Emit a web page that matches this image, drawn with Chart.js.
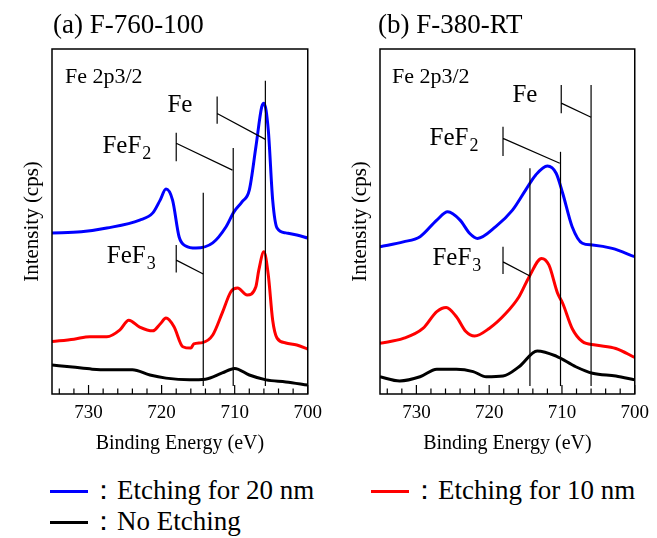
<!DOCTYPE html>
<html lang="en">
<head>
<meta charset="UTF-8">
<title>Fe 2p3/2 spectra</title>
<script src="https://cdn.jsdelivr.net/npm/chart.js"></script>
<style>
  body { margin: 0; background: #fff; font-family: 'Liberation Serif', 'Times New Roman', serif; }
  #wrap { position: relative; width: 657px; height: 538px; overflow: hidden; }
  canvas { position: absolute; top: 0; }
  #panelA { left: 0; }
  #panelB { left: 328px; }
  .legend-item { position: absolute; font-size: 27px; line-height: 30px; color: #000; white-space: nowrap; }
  .legend-item .swatch { display: inline-block; width: 38px; height: 3px; vertical-align: middle; margin-right: 2px; position: relative; top: -1px; }
</style>
</head>
<body>
<div id="wrap">
  <canvas id="panelA" width="330" height="460"></canvas>
  <canvas id="panelB" width="329" height="460"></canvas>
  <div class="legend-item" style="left:50px; top:475px;"><span class="swatch" style="background:#0000ff"></span>：Etching for 20 nm</div>
  <div class="legend-item" style="left:371px; top:475px;"><span class="swatch" style="background:#ff0000"></span>：Etching for 10 nm</div>
  <div class="legend-item" style="left:50px; top:506px;"><span class="swatch" style="background:#000000"></span>：No Etching</div>
</div>

<script>
// ---- data (binding energy in eV, intensity in arbitrary units 0-100) ----
const seriesNames = ['Etching for 20 nm', 'Etching for 10 nm', 'No Etching'];
const seriesColors = ['#0000ff', '#ff0000', '#000000'];

// (a) F-760-100
const a20E = [735, 731, 727.5, 723, 721.2, 720.2, 719.4, 718.5, 717.6, 716.7, 715.3, 713, 711.2, 710.1, 709, 708, 707.1, 706.3, 706, 705.4, 704.8, 704.2, 703, 701.5, 700];
const a20I = [46.7, 47.0, 48.1, 50.4, 52.5, 56.2, 59.4, 56.2, 45.5, 42.9, 42.3, 43.8, 48.4, 52.8, 55.7, 59.1, 71.6, 83.2, 84.3, 76.5, 56.2, 48.1, 46.7, 46.1, 45.2];
const a10E = [735, 732, 729.8, 727.5, 725.7, 724.5, 723, 721.2, 720.2, 719.4, 718.3, 717.1, 716, 715.6, 714.4, 713, 711.7, 710.5, 709.6, 708.3, 707.1, 706.7, 706, 705.4, 704.8, 704.2, 703, 701.5, 700];
const a10I = [15.2, 15.9, 16.6, 16.6, 18.6, 21.4, 19.4, 18.3, 20.3, 22.0, 19.5, 13.7, 13.3, 14.5, 14.9, 17.1, 23.5, 29.7, 30.7, 28.7, 31.1, 35.9, 41.2, 34.5, 21.4, 16.2, 14.8, 14.2, 13.0];
const a0E = [735, 732.2, 729.5, 727.5, 724, 721.6, 719.4, 716.2, 714, 711.7, 710, 708, 705.7, 703, 700];
const a0I = [8.4, 7.8, 7.2, 7.0, 7.0, 5.5, 4.6, 4.1, 4.3, 6.1, 7.4, 5.5, 4.1, 3.5, 2.6];

// (b) F-380-RT
const b20E = [735, 731.8, 729.5, 727.2, 725.7, 724, 722.7, 721.6, 719.1, 716.8, 715, 713.6, 712, 710.8, 709.9, 708.6, 707.2, 705.8, 703.1, 700];
const b20I = [42.7, 44.1, 45.6, 50.4, 52.8, 50.4, 46.6, 45.1, 48.5, 53.3, 59.1, 63.5, 66.1, 64.0, 58.2, 48.5, 43.7, 43.2, 42.2, 39.8];
const b10E = [735, 731.8, 729.1, 727.2, 725.9, 724.5, 723.2, 722, 720, 717.7, 715.9, 714.5, 712.8, 711.8, 710.6, 709.9, 708.6, 707.2, 705.4, 702.6, 700];
const b10I = [14.7, 16.1, 19.0, 23.9, 25.1, 22.4, 18.1, 16.8, 19.0, 23.4, 28.2, 34.0, 39.3, 37.4, 29.2, 26.3, 19.0, 15.2, 14.2, 13.2, 10.6];
const b0E = [735, 732.3, 729.5, 727.2, 724.5, 722.2, 720.4, 718.1, 715.9, 713.4, 710.8, 708.1, 705.8, 702.6, 700];
const b0I = [5.0, 3.8, 5.0, 7.2, 7.2, 6.5, 5.0, 5.2, 7.9, 12.5, 11.0, 7.9, 6.0, 5.2, 4.1];

// reference binding energies (Fe, FeF2, FeF3)
const refLabels = ['Fe', 'FeF2', 'FeF3'];
const refEnergiesA = [705.8, 710.2, 714.3];
const refEnergiesB = [706.0, 710.2, 714.4];

const xTickStep = 2;
const xMin = 700, xMax = 735;

const fontFamily = "'Liberation Serif', 'Times New Roman', serif";

// annotation placement (in data coordinates)
const decorA = {
  title: { text: '(a) F-760-100', x: 53, y: 33 },
  line: { text: 'Fe 2p3/2', dx: 13, y: 83 },
  refTops: [90.8, 71.3, 58.3],
  refBottom: 2.3,
  leaders: [
    { tick: [712.4, 86.2, 78.3], from: [712.4, 81.3], to: [705.8, 73.8], label: ['Fe', ''], at: [719.2, 81.7] },
    { tick: [718.0, 75.7, 67.5], from: [718.0, 72.7], to: [710.3, 64.9], label: ['FeF', '2'], at: [728.1, 69.9] },
    { tick: [718.0, 43.2, 35.2], from: [718.0, 38.8], to: [714.3, 34.8], label: ['FeF', '3'], at: [727.5, 38.0] }
  ]
};
const decorB = {
  title: { text: '(b) F-380-RT', x: 50, y: 33 },
  line: { text: 'Fe 2p3/2', dx: 12, y: 83 },
  refTops: [89.6, 70.2, 65.4],
  refBottom: 2.3,
  leaders: [
    { tick: [710.1, 89.6, 81.4], from: [710.1, 84.3], to: [706.0, 80.2], label: ['Fe', ''], at: [716.8, 84.7] },
    { tick: [718.1, 77.5, 69.0], from: [718.1, 74.1], to: [710.3, 66.9], label: ['FeF', '2'], at: [728.2, 72.2] },
    { tick: [718.1, 42.7, 34.8], from: [718.1, 38.3], to: [714.4, 34.2], label: ['FeF', '3'], at: [727.8, 37.4] }
  ]
};

function makeDecor(cfg, refs) {
  return {
    id: 'decor',
    afterDatasetsDraw(chart) {
      const { ctx, chartArea: a } = chart;
      const x = chart.scales.x, y = chart.scales.y;
      ctx.save();
      ctx.strokeStyle = '#000';
      ctx.fillStyle = '#000';

      // reference lines
      ctx.lineWidth = 1.2;
      refs.forEach((e, i) => {
        const px = x.getPixelForValue(e);
        ctx.beginPath();
        ctx.moveTo(px, y.getPixelForValue(cfg.refTops[i]));
        ctx.lineTo(px, y.getPixelForValue(cfg.refBottom));
        ctx.stroke();
      });

      // leader brackets and labels
      cfg.leaders.forEach(l => {
        const tx = x.getPixelForValue(l.tick[0]);
        ctx.beginPath();
        ctx.moveTo(tx, y.getPixelForValue(l.tick[1]));
        ctx.lineTo(tx, y.getPixelForValue(l.tick[2]));
        ctx.moveTo(x.getPixelForValue(l.from[0]), y.getPixelForValue(l.from[1]));
        ctx.lineTo(x.getPixelForValue(l.to[0]), y.getPixelForValue(l.to[1]));
        ctx.stroke();

        const lx = x.getPixelForValue(l.at[0]), ly = y.getPixelForValue(l.at[1]);
        ctx.textAlign = 'left';
        ctx.textBaseline = 'alphabetic';
        ctx.font = '25px ' + fontFamily;
        ctx.fillText(l.label[0], lx, ly);
        if (l.label[1]) {
          const w = ctx.measureText(l.label[0]).width;
          ctx.font = '18px ' + fontFamily;
          ctx.fillText(l.label[1], lx + w + 1, ly + 6);
        }
      });

      // frame
      ctx.lineWidth = 1.5;
      ctx.strokeRect(a.left, a.top, a.right - a.left, a.bottom - a.top);

      // inward tick marks from the library's tick list
      ctx.lineWidth = 1.2;
      x.ticks.forEach(t => {
        const px = x.getPixelForValue(t.value);
        const len = t.value % 10 === 0 ? 9 : 5.5;
        ctx.beginPath();
        ctx.moveTo(px, a.bottom);
        ctx.lineTo(px, a.bottom - len);
        ctx.stroke();
      });

      // panel title and core level label
      ctx.font = '27px ' + fontFamily;
      ctx.fillText(cfg.title.text, cfg.title.x, cfg.title.y);
      ctx.font = '22px ' + fontFamily;
      ctx.fillText(cfg.line.text, a.left + cfg.line.dx, cfg.line.y);
      ctx.restore();
    }
  };
}

function toPoints(es, is) {
  return es.map((e, i) => ({ x: e, y: is[i] }));
}

function makeChart(id, series, cfg, refs) {
  const datasets = series.map((s, i) => ({
    label: seriesNames[i],
    data: toPoints(s[0], s[1]),
    borderColor: seriesColors[i],
    borderWidth: 3,
    pointRadius: 0,
    cubicInterpolationMode: 'monotone',
    fill: false,
    order: i
  }));
  return new Chart(document.getElementById(id), {
    type: 'line',
    data: { datasets },
    options: {
      responsive: false,
      animation: false,
      layout: { padding: { top: 49, left: 16, right: 21, bottom: 0 } },
      plugins: { legend: { display: false }, tooltip: { enabled: false } },
      scales: {
        x: {
          type: 'linear',
          reverse: true,
          min: xMin,
          max: xMax,
          afterFit: s => { s.height = 66; },
          grid: { display: false, drawTicks: false },
          border: { display: false },
          ticks: {
            stepSize: xTickStep,
            includeBounds: false,
            autoSkip: false,
            maxRotation: 0,
            padding: 8,
            color: '#000',
            font: { family: fontFamily, size: 19 },
            callback: v => (v % 10 === 0 ? v : '')
          },
          title: {
            display: true,
            text: 'Binding Energy (eV)',
            color: '#000',
            font: { family: fontFamily, size: 20 },
            padding: { top: 0, bottom: 4 }
          }
        },
        y: {
          min: 0,
          max: 100,
          afterFit: s => { s.width = 36; },
          grid: { display: false },
          border: { display: false },
          ticks: { display: false },
          title: {
            display: true,
            text: 'Intensity (cps)',
            color: '#000',
            font: { family: fontFamily, size: 21 },
            padding: { top: 4, bottom: 4 }
          }
        }
      }
    },
    plugins: [makeDecor(cfg, refs)]
  });
}

makeChart('panelA', [[a20E, a20I], [a10E, a10I], [a0E, a0I]], decorA, refEnergiesA);
makeChart('panelB', [[b20E, b20I], [b10E, b10I], [b0E, b0I]], decorB, refEnergiesB);
</script>
</body>
</html>
